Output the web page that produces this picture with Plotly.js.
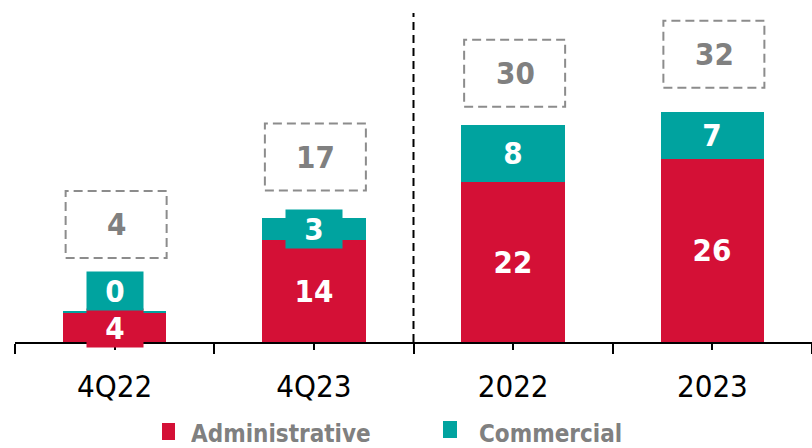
<!DOCTYPE html>
<html><head><meta charset="utf-8">
<script src="https://cdn.plot.ly/plotly-3.0.1.min.js"></script>
<style>html,body{margin:0;padding:0;background:#fff}#chart{width:812px;height:448px}</style>
</head><body><div id="chart"></div>
<script>
// ---- data (bar heights; labels as printed) ----
const categories = ['4Q22', '4Q23', '2022', '2023'];
const administrative = [4.05, 14.3, 22.4, 25.6];
const commercial = [0.3, 3.1, 8.0, 6.6];
const adminLabels = ['4', '14', '22', '26'];
const commercialLabels = ['0', '3', '8', '7'];
const totalLabels = ['4', '17', '30', '32'];
const seriesNames = ['Administrative', 'Commercial'];

// ---- style / layout constants ----
const RED = '#D41036', TEAL = '#00A39F', GRAY = '#808080', BOXGRAY = '#8C8C8C';
const FONT = '"DejaVu Sans Condensed", "DejaVu Sans", sans-serif';
const boxGapPx = [53, 27, 18, 24];
const M = {l: 15, r: 0, t: 10, b: 106};
const W = 812, H = 448;
const PW = W - M.l - M.r, PH = H - M.t - M.b;
const px2paperX = p => (p - M.l) / PW;
const px2paperY = p => (H - M.b - p) / PH;

const xs = categories.map((_, i) => i);
const totals = xs.map(i => administrative[i] + commercial[i]);

const traces = [
  {type: 'bar', x: xs, y: administrative, name: seriesNames[0], marker: {color: RED, line: {width: 0}}, showlegend: false},
  {type: 'bar', x: xs, y: commercial, name: seriesNames[1], marker: {color: TEAL, line: {width: 0}}, showlegend: false}
];

const labelFont = {family: FONT, size: 31, color: '#FFFFFF', weight: 'bold'};
const annotations = [];
const shapes = [];

xs.forEach(i => {
  annotations.push({x: i, y: administrative[i] / 2, xref: 'x', yref: 'y', text: adminLabels[i],
    showarrow: false, bgcolor: RED, width: 56, height: 38, borderpad: 0, font: labelFont});
  const small = commercial[i] < 1;
  annotations.push({x: i, y: small ? totals[i] : administrative[i] + commercial[i] / 2, xref: 'x', yref: 'y',
    yanchor: small ? 'bottom' : 'middle', text: commercialLabels[i],
    showarrow: false, bgcolor: TEAL, width: 56, height: 38, borderpad: 0, font: labelFont});
  shapes.push({type: 'rect', xref: 'x', yref: 'y', xsizemode: 'pixel', ysizemode: 'pixel',
    xanchor: i, yanchor: totals[i], x0: -49, x1: 52, y0: boxGapPx[i], y1: boxGapPx[i] + 67,
    line: {color: BOXGRAY, width: 2, dash: '9px,5px'}, fillcolor: 'rgba(0,0,0,0)', layer: 'above'});
  annotations.push({x: i, y: totals[i], xref: 'x', yref: 'y', xshift: 2, yshift: boxGapPx[i] + 33.5, yanchor: 'middle',
    text: totalLabels[i], showarrow: false, font: {family: FONT, size: 31, color: GRAY, weight: 'bold'}});
});

// divider between quarters and years
shapes.push({type: 'line', xref: 'x', yref: 'paper', x0: 1.5, x1: 1.5, y0: 0, y1: px2paperY(13),
  line: {color: '#000', width: 2, dash: '8px,5px'}, layer: 'above'});

// custom legend
const legendItems = [
  {color: RED, name: seriesNames[0], sq: [162, 175, 423, 440], tx: 190},
  {color: TEAL, name: seriesNames[1], sq: [443, 457, 421, 438], tx: 478}
];
legendItems.forEach(it => {
  shapes.push({type: 'rect', xref: 'paper', yref: 'paper', x0: px2paperX(it.sq[0]), x1: px2paperX(it.sq[1]),
    y0: px2paperY(it.sq[3]), y1: px2paperY(it.sq[2]), fillcolor: it.color, line: {width: 0}});
  annotations.push({xref: 'paper', yref: 'paper', x: px2paperX(it.tx), y: px2paperY(447), xanchor: 'left', yanchor: 'bottom',
    height: 24, borderpad: 0, valign: 'middle',
    text: it.name, showarrow: false, font: {family: FONT, size: 24, color: GRAY, weight: 'bold'}});
});

const minorVals = xs.concat([xs.length]).map(v => v - 0.5);

const layout = {
  width: W, height: H, margin: M, paper_bgcolor: '#fff', plot_bgcolor: '#fff',
  barmode: 'stack', bargap: 0.48, showlegend: false,
  xaxis: {type: 'linear', range: [-0.5, 3.5], tickmode: 'array', tickvals: xs, ticktext: categories,
    ticks: 'outside', ticklen: 6, tickwidth: 2, tickcolor: '#000', showline: true, linecolor: '#000', linewidth: 2,
    showgrid: false, zeroline: false, ticklabelstandoff: 10,
    tickfont: {family: FONT, size: 31, color: '#000'},
    minor: {tickmode: 'array', tickvals: minorVals, ticks: 'outside', ticklen: 10, tickwidth: 2, tickcolor: '#000', showgrid: false},
    fixedrange: true},
  yaxis: {visible: false, range: [0, PH / 7.15], fixedrange: true},
  annotations: annotations, shapes: shapes
};

Plotly.newPlot('chart', traces, layout, {displayModeBar: false, staticPlot: true});
</script></body></html>
